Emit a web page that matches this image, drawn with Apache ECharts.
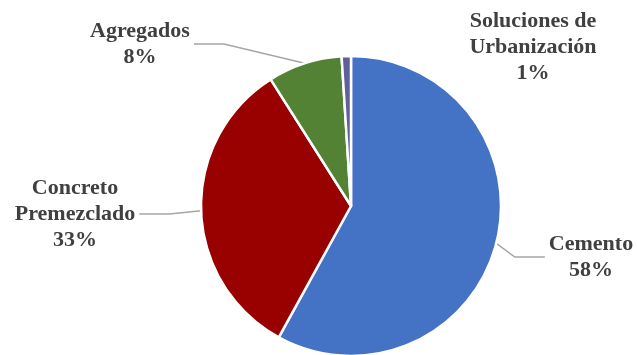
<!DOCTYPE html>
<html>
<head>
<meta charset="utf-8">
<script src="https://cdn.jsdelivr.net/npm/echarts@6/dist/echarts.min.js"></script>
<style>
  html, body { margin: 0; padding: 0; background: #fff; }
  #chart { width: 637px; height: 355px; }
</style>
</head>
<body>
<div id="chart"></div>
<script>
// Sales share by business line
const categories = ['Cemento', 'Concreto\nPremezclado', 'Agregados', 'Soluciones de\nUrbanización'];
const shares = [58, 33, 8, 1];
const sliceColors = ['#4472C4', '#990000', '#548235', '#5F5F9C'];

// Where each label block sits (centre of the text block)
const labelSpots = [
  { x: 591, y: 257, line: true },
  { x: 75, y: 214, line: true },
  { x: 140, y: 44, line: true },
  { x: 533, y: 47, line: false }
];

const chart = echarts.init(document.getElementById('chart'));
chart.setOption({
  animation: false,
  series: [{
    type: 'pie',
    center: [351, 206],
    radius: [0, 150],
    startAngle: 90,
    clockwise: true,
    avoidLabelOverlap: false,
    itemStyle: { borderColor: '#fff', borderWidth: 2.5 },
    label: {
      show: true,
      position: 'outside',
      formatter: p => p.name + '\n' + p.value + '%',
      fontFamily: '"Liberation Serif", "Times New Roman", serif',
      fontWeight: 'bold',
      fontSize: 22,
      lineHeight: 26,
      color: '#404040',
      align: 'center',
      padding: [0, 4]
    },
    labelLine: {
      show: true,
      lineStyle: { color: '#A6A6A6', width: 1.5 }
    },
    labelLayout: params => {
      const s = labelSpots[params.dataIndex];
      return { x: s.x, y: s.y, align: 'center', verticalAlign: 'middle' };
    },
    data: categories.map((name, i) => ({
      name: name,
      value: shares[i],
      itemStyle: { color: sliceColors[i] },
      labelLine: { show: labelSpots[i].line }
    }))
  }]
});
</script>
</body>
</html>
